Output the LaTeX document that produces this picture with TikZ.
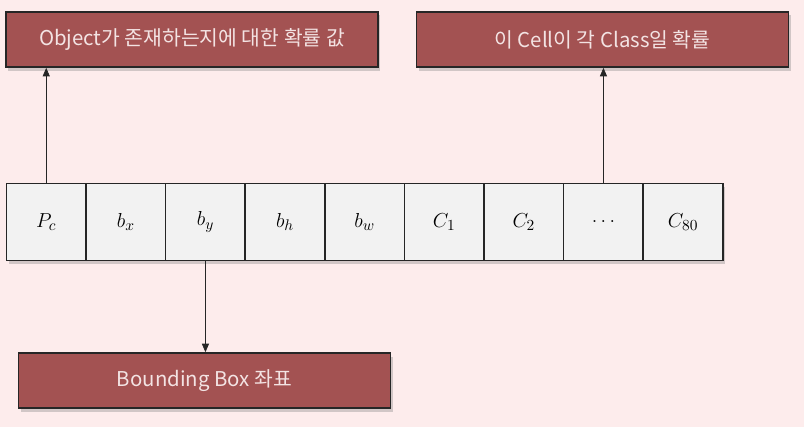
\documentclass[tikz,border=0pt]{standalone}
\usepackage{fontspec}
\setsansfont{Noto Sans CJK KR}
\usepackage{amsmath}
\usepackage{tikz}
\usetikzlibrary{arrows.meta, positioning, shadows}

\definecolor{bgpink}{HTML}{FDECEC}
\definecolor{boxred}{HTML}{A35252}
\definecolor{boxtext}{HTML}{F3E3E3}
\definecolor{cellgray}{HTML}{F2F2F2}
\definecolor{edge}{HTML}{262626}

\tikzset{
  labelbox/.style={draw=edge, line width=1.2pt, fill=boxred, text=boxtext,
    minimum width=9.3cm, minimum height=1.38cm, inner sep=0pt,
    font=\sffamily\fontsize{14.5}{16}\selectfont,
    drop shadow={shadow xshift=1.5pt, shadow yshift=-2.5pt, opacity=0.35}},
  cellbox/.style={draw=edge, line width=1.2pt, fill=cellgray,
    minimum width=1.99cm, minimum height=1.93cm, inner sep=0pt,
    font=\fontsize{15}{17}\selectfont},
  pointer/.style={-{Triangle[length=6pt,width=5pt]}, edge, line width=0.5pt}
}

\begin{document}
\begin{tikzpicture}
\fill[bgpink] (0,0) rectangle (20.1,10.675);
\useasboundingbox (0,0) rectangle (20.1,10.675);

% row of cells
\begin{scope}[every node/.append style={drop shadow={shadow xshift=1.5pt, shadow yshift=-2.5pt, opacity=0.35}}]
\node[cellbox, anchor=south west] (pc) at (0.14,4.14) {$P_c$};
\node[cellbox, right=-1.2pt of pc] (bx) {$b_x$};
\node[cellbox, right=-1.2pt of bx] (by) {$b_y$};
\node[cellbox, right=-1.2pt of by] (bh) {$b_h$};
\node[cellbox, right=-1.2pt of bh] (bw) {$b_w$};
\node[cellbox, right=-1.2pt of bw] (c1) {$C_1$};
\node[cellbox, right=-1.2pt of c1] (c2) {$C_2$};
\node[cellbox, right=-1.2pt of c2] (dots) {$\ldots$};
\node[cellbox, right=-1.2pt of dots] (c80) {$C_{80}$};
\end{scope}

% labels
\node[labelbox] (objprob) at (4.8,9.69) {Object가 존재하는지에 대한 확률 값};
\node[labelbox] (clsprob) at (15.06,9.69) {이 Cell이 각 Class일 확률};
\node[labelbox] (bbox) at (5.11,1.16) {Bounding Box 좌표};

\draw[pointer] (pc.north) -- (pc.north |- objprob.south);
\draw[pointer] (dots.north) -- (dots.north |- clsprob.south);
\draw[pointer] (by.south) -- (by.south |- bbox.north);
\end{tikzpicture}
\end{document}
